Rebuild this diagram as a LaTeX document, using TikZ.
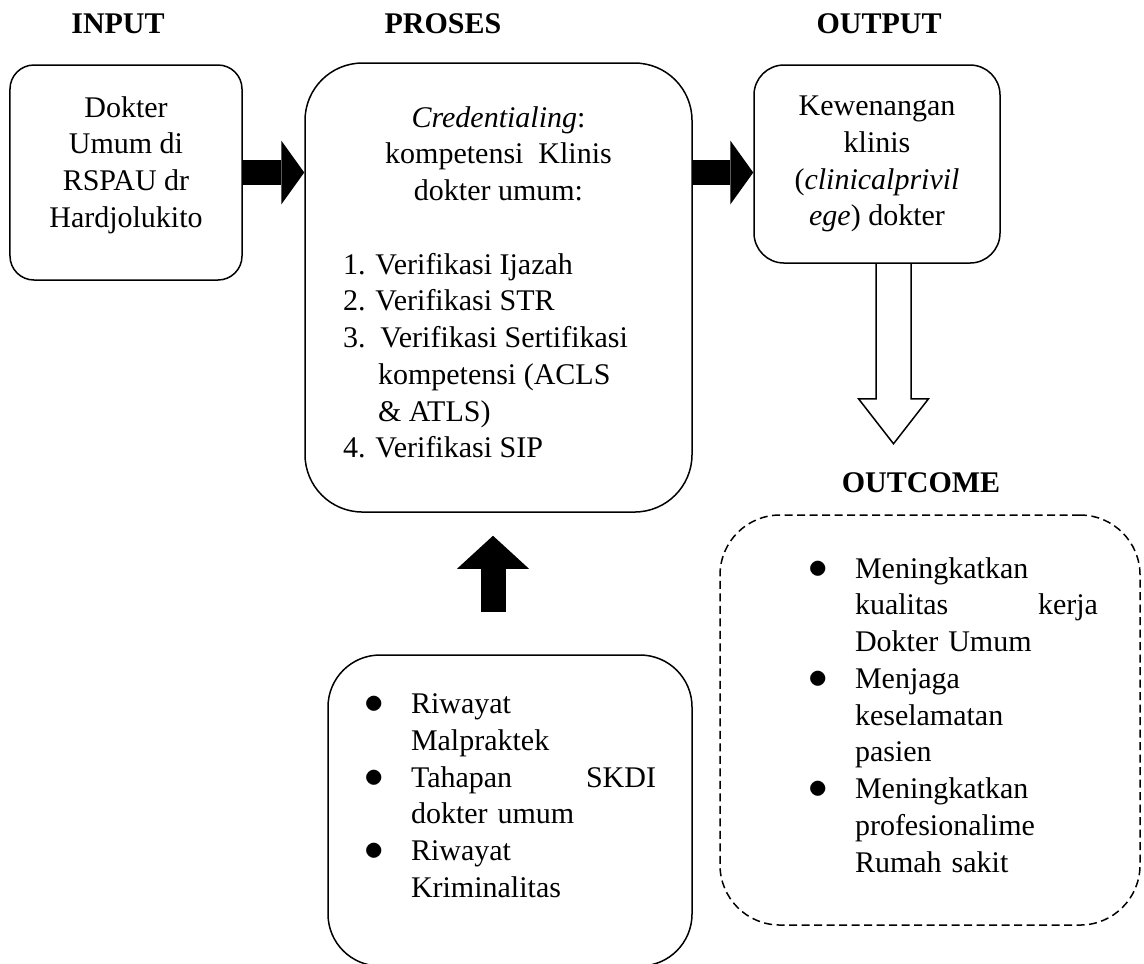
\documentclass[tikz,border=0pt]{standalone}
\usepackage{fontspec}
\setmainfont{Liberation Serif}
\usetikzlibrary{arrows.meta, calc}

\newcommand{\vpad}[1]{\rule[-#1]{0pt}{#1}}
\newcommand{\bitem}{\makebox[18.8pt][l]{\scalebox{1.3}{$\bullet$}}}
\newcommand{\bskip}{\hspace*{18.8pt}}

\begin{document}
\begin{tikzpicture}[
      x=0.4pt, y=-0.4pt,
      every node/.style={font=\fontsize{12pt}{14.7pt}\selectfont},
      head/.style={font=\fontsize{12pt}{14.7pt}\selectfont\bfseries, anchor=base, inner sep=0pt},
      box/.style={draw, line width=0.6pt, align=center, inner sep=0pt},
      lst/.style={box, align=left},
      fatarrow/.style={line width=10pt, -{Triangle[length=9.2pt, width=25.6pt, line width=0pt]}},
      hollow/.style={line width=0.6pt, line join=miter}
   ]
   \useasboundingbox (0,0) rectangle (1144,963);

   % Headings
   \node[head] (hin)  at (118,33)  {INPUT};
   \node[head] (hpr)  at (443,33)  {PROSES};
   \node[head] (hout) at (879,33)  {OUTPUT};
   \node[head] (hoc)  at (921,492) {OUTCOME};

   % Top row
   \node[box, rounded corners=9.6pt, minimum width=92.8pt, minimum height=86pt] (input) at (126,172.5)
      {Dokter\\Umum di\\RSPAU dr\\Hardjolukito\vpad{8.5pt}};
   \node[box, rounded corners=23pt, minimum width=154.8pt, minimum height=179.6pt] (proses) at (498.5,287.5)
      {\textit{Credentialing}:\\
       kompetensi\ \ Klinis\\
       dokter umum:\\[14.7pt]
       \makebox[124.4pt][l]{1. Verifikasi Ijazah}\\
       \makebox[124.4pt][l]{2. Verifikasi STR}\\
       \makebox[124.4pt][l]{3.\ \ Verifikasi Sertifikasi}\\
       \makebox[124.4pt][l]{\hspace{14pt}kompetensi (ACLS}\\
       \makebox[124.4pt][l]{\hspace{14pt}\& ATLS)}\\
       \makebox[124.4pt][l]{4. Verifikasi SIP}\vpad{4.3pt}};
   \node[box, rounded corners=12pt, minimum width=98.4pt, minimum height=79.2pt] (output) at (877,164)
      {Kewenangan\\klinis\\(\textit{clinicalprivil}\\\textit{ege}) dokter};

   % Bottom row
   \node[lst, rounded corners=20.8pt, minimum width=145.6pt, minimum height=124.4pt, text width=116.8pt] (risk) at (510,810.5)
      {\bitem Riwayat\\
       \bskip Malpraktek\\
       \bitem\makebox[98pt][l]{Tahapan\hfill SKDI}\\
       \bskip dokter umum\\
       \bitem Riwayat\\
       \bskip Kriminalitas\vpad{11.9pt}};
   \node[lst, dash pattern=on 3.2pt off 1.8pt, rounded corners=24pt, minimum width=168pt, minimum height=164pt, text width=134.4pt] (outcome) at (930,720)
      {\leftskip=18.4pt
       \bitem Meningkatkan\\
       \bskip\makebox[97.2pt][l]{kualitas\hfill kerja}\\
       \bskip Dokter Umum\\
       \bitem Menjaga\\
       \bskip keselamatan\\
       \bskip pasien\\
       \bitem Meningkatkan\\
       \bskip profesionalime\\
       \bskip Rumah sakit\vpad{4.2pt}\par};

   \draw[fatarrow] (input.east) -- (input.east -| proses.west);
   \draw[fatarrow] (input.east -| proses.east) -- (input.east -| output.west);
   \draw[fatarrow, -{Triangle[length=13.2pt, width=28.8pt, line width=0pt]}]
      ($(risk.north)+(-17,-42)$) -- ($(proses.south)+(-5.5,23)$);

   \coordinate (drop) at ($(output.south)+(16.5,0)$);
   \draw[hollow] (drop) ++(-17.5,0) -- ++(0,135) -- ++(-17.5,0) -- ++(35,45)
      -- ++(35,-45) -- ++(-17.5,0) -- ++(0,-135);
\end{tikzpicture}
\end{document}
